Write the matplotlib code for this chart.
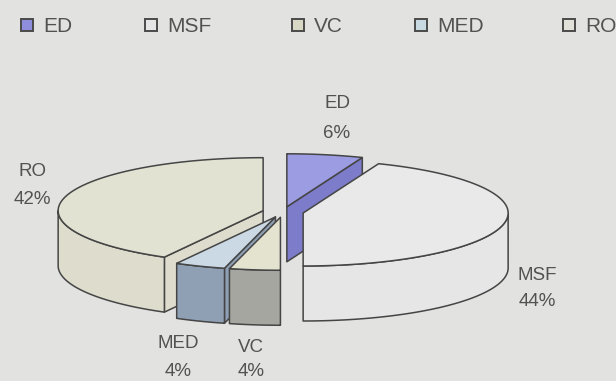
import numpy as np
import matplotlib
matplotlib.use("Agg")
import matplotlib.pyplot as plt
from matplotlib.patches import Polygon, Rectangle

# Share of each category (percent), clockwise from 12 o'clock
categories = ["ED", "MSF", "VC", "MED", "RO"]
shares = [6, 44, 4, 4, 42]

top_colors = ["#9c9ce2", "#e9e9e9", "#e3e3cf", "#cbd9e5", "#e2e2d3"]
wall_colors = ["#7c7cca", "#e6e6e6", "#a6a6a0", "#8fa0b4", "#dddccd"]
legend_colors = ["#8e8edc", "#e6e6e6", "#d8d8c4", "#c9d9e2", "#e2e2da"]

BG = "#e2e2e0"
EDGE = "#454545"
TXT = "#525252"

# projection of the tilted pie, in pixels
CX, CY = 283, 212
RX, RY = 205, 53
DEPTH = 55
EXPLODE = 0.10


def rim(theta, ox, oy, drop=0.0):
    t = np.radians(theta)
    return np.column_stack([ox + RX * np.sin(t), oy - RY * np.cos(t) + drop])


def face(ax, pts, color, z):
    ax.add_patch(Polygon(pts, closed=True, facecolor=color, edgecolor=EDGE,
                         lw=1.1, joinstyle="round", zorder=z))


fig = plt.figure(figsize=(6.16, 3.81), dpi=100)
fig.patch.set_facecolor(BG)
ax = fig.add_axes([0, 0, 1, 1])
ax.set_xlim(0, 616)
ax.set_ylim(381, 0)
ax.axis("off")

bounds = np.concatenate([[0], np.cumsum(shares)]) * 3.6
slices = []
for i, (t1, t2) in enumerate(zip(bounds[:-1], bounds[1:])):
    tm = np.radians((t1 + t2) / 2)
    ox = CX + EXPLODE * RX * np.sin(tm)
    oy = CY - EXPLODE * RY * np.cos(tm)
    slices.append((oy - CY, i, t1, t2, ox, oy))

# back slices first
for z, (_, i, t1, t2, ox, oy) in enumerate(sorted(slices)):
    base = 3 * z
    c = np.array([ox, oy])
    # cut faces that turn toward the viewer
    for th, show in ((t1, np.sin(np.radians(t1)) < -1e-6),
                     (t2, np.sin(np.radians(t2)) > 1e-6)):
        if show:
            r = rim([th], ox, oy)[0]
            pts = [c, r, r + [0, DEPTH], c + [0, DEPTH]]
            face(ax, pts, wall_colors[i], base)
    # outer wall on the front half
    lo, hi = max(t1, 90), min(t2, 270)
    if hi > lo:
        th = np.linspace(lo, hi, 80)
        top = rim(th, ox, oy)
        bot = rim(th[::-1], ox, oy, DEPTH)
        face(ax, np.vstack([top, bot]), wall_colors[i], base + 1)
    th = np.linspace(t1, t2, 120)
    face(ax, np.vstack([c, rim(th, ox, oy)]), top_colors[i], base + 2)

# data labels: (x, y of name line, y of percent line)
label_pos = {"ED": (337, 101, 131), "MSF": (537, 273, 300),
             "VC": (251, 346, 369), "MED": (178, 342, 369),
             "RO": (32, 169, 198)}
for name, val in zip(categories, shares):
    x, y1, y2 = label_pos[name]
    for y, s in ((y1, name), (y2, f"{val}%")):
        ax.text(x, y, s, ha="center", va="center_baseline", color=TXT,
                fontsize=13.5, family="Liberation Sans", zorder=40)

# legend row
legend_x = [21, 145, 292, 415, 563]
for name, col, x in zip(categories, legend_colors, legend_x):
    ax.add_patch(Rectangle((x, 18.5), 12, 12.5, facecolor=col,
                           edgecolor="#4a4a4a", lw=1.4, zorder=40))
    ax.text(x + 22, 25, name, ha="left", va="center_baseline", color=TXT,
            fontsize=15, family="Liberation Sans", zorder=40)

fig.savefig("out.png", dpi=100, facecolor=BG)
